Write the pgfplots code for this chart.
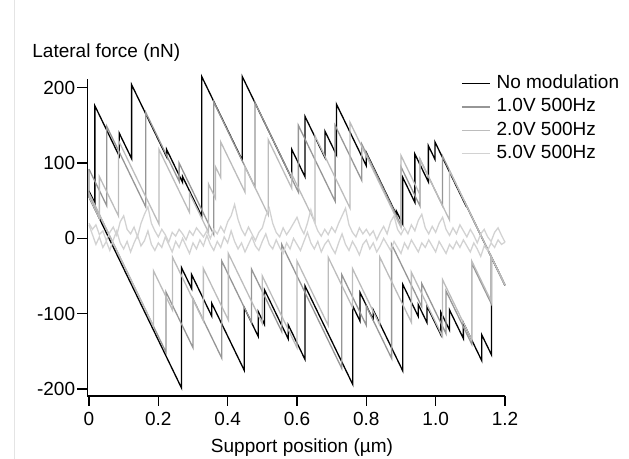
\documentclass[border=0pt]{standalone}
\usepackage{fontspec}
\setmainfont{Liberation Sans}
\usepackage{pgfplots}
\pgfplotsset{compat=1.18}
\definecolor{gA}{RGB}{150,150,150}
\definecolor{gB}{RGB}{188,188,188}
\definecolor{gC}{RGB}{210,210,210}
\definecolor{frame}{RGB}{228,228,228}
\begin{document}
\fontsize{9.5}{11}\selectfont
\begin{tikzpicture}[x=1pt,y=1pt]
\path[use as bounding box] (0,0) rectangle (314.5,229.5);
\draw[frame, line width=0.5pt] (7.5,0) -- (7.5,229.5);
\begin{axis}[
  at={(43.75pt,31.5pt)}, anchor=south west,
  scale only axis, width=208.75pt, height=158.5pt,
  xmin=-0.0043, xmax=1.2, ymin=-209.2, ymax=211.6,
  axis x line*=bottom, axis y line*=left,
  axis line style={-, line width=0.7pt},
  clip=false,
  tick align=outside, major tick length=5pt,
  tick style={black, line width=0.6pt},
  xtick={0,0.2,0.4,0.6,0.8,1.0,1.2},
  xticklabels={0,0.2,0.4,0.6,0.8,1.0,1.2},
  ytick={-200,-100,0,100,200},
  yticklabels={-200,-100,0,100,200},
  yticklabel style={inner xsep=1pt},
  ticklabel style={font=\fontsize{9.5}{11}\selectfont},
  legend style={at={(0.880,1.028)}, anchor=north west, draw=none, fill=none,
    font=\fontsize{9.5}{11}\selectfont, row sep=2.35pt, column sep=2.5pt,
    nodes={inner sep=0.5pt, text height=6.5pt, text depth=1.8pt}},
  legend cell align=left,
  legend image code/.code={\draw[#1] (0pt,0pt) -- (14pt,0pt);},
  every axis plot/.append style={line width=0.65pt},
]
% no modulation
\addplot[black] coordinates {(0,63) (0,55) (0.267,-198.7) (0.267,-39) (0.296,-66.6) (0.296,-48) (0.354,-103.1) (0.354,-86) (0.448,-175.3) (0.448,-92) (0.488,-130) (0.488,-97) (0.506,-114.1) (0.506,-68) (0.575,-133.6) (0.575,-115) (0.623,-160.6) (0.623,-63) (0.761,-194.1) (0.761,-90) (0.782,-110) (0.782,-72) (0.82,-108.1) (0.82,-95) (0.905,-175.8) (0.905,-61) (0.95,-103.8) (0.95,-88) (0.975,-111.8) (0.975,-90) (1.015,-128) (1.015,-98) (1.04,-121.8) (1.04,-95) (1.08,-133) (1.08,-112) (1.133,-162.4) (1.133,-128) (1.161,-154.6) (1.161,-25) (1.2,-62.1)};
\addlegendentry{No modulation}
\addplot[black, forget plot] coordinates {(0,63) (0.017,46.9) (0.017,176) (0.087,109.5) (0.087,140) (0.123,105.8) (0.123,204) (0.224,108.1) (0.224,118) (0.27,74.3) (0.27,82) (0.325,29.8) (0.325,215) (0.442,103.9) (0.442,215) (0.585,79.2) (0.585,118) (0.623,81.9) (0.623,162) (0.681,106.9) (0.681,142) (0.714,110.7) (0.714,178) (0.80,96.3) (0.80,114) (0.887,31.4) (0.887,36) (0.905,18.9) (0.905,81) (0.94,47.8) (0.94,112) (0.979,75) (0.979,123) (0.998,105) (0.998,128) (1.085,45.4) (1.085,47) (1.2,-62.3)};
% 1.0 V
\addplot[gA] coordinates {(0,92) (0,60) (0.222,-150.9) (0.222,-71) (0.30,-145.1) (0.30,-80) (0.383,-158.9) (0.383,-30) (0.469,-111.7) (0.469,-41) (0.556,-123.7) (0.556,-8) (0.729,-172.4) (0.729,-48) (0.80,-115.5) (0.80,-90) (0.873,-159.4) (0.873,-8) (0.96,-90.7) (0.96,-60) (1.03,-126.5) (1.03,-70) (1.104,-140.3) (1.104,-33) (1.16,-86.2) (1.16,-24) (1.2,-62)};
\addlegendentry{1.0V 500Hz}
\addplot[gA, forget plot] coordinates {(0,92) (0.051,43.5) (0.051,149) (0.164,41.6) (0.164,167) (0.26,75.8) (0.26,100) (0.36,5) (0.36,181) (0.479,67.9) (0.479,180) (0.604,61.3) (0.604,150) (0.71,49.3) (0.71,150) (0.787,76.9) (0.787,125) (0.90,17.6) (0.90,95) (0.955,42.8) (0.955,105) (1.02,43.3) (1.02,109) (1.2,-62)};
% 2.0 V
\addplot[gB] coordinates {(0,55) (0,60) (0.186,-116.7) (0.186,-43) (0.241,-95.3) (0.241,-25) (0.33,-109.6) (0.33,-40) (0.402,-108.4) (0.402,-20) (0.50,-113.1) (0.50,-50) (0.60,-145) (0.60,-30) (0.69,-115.5) (0.69,-25) (0.76,-91.5) (0.76,-40) (0.839,-115.1) (0.839,-25) (0.93,-111.5) (0.93,-45) (1.02,-130.5) (1.02,-55) (1.104,-134.8) (1.104,-30) (1.16,-83.2) (1.16,-24) (1.2,-62)};
\addlegendentry{2.0V 500Hz}
\addplot[gB, forget plot] coordinates {(0,55) (0.03,26.5) (0.03,82) (0.085,29.8) (0.085,130) (0.202,18.9) (0.202,118) (0.29,34.4) (0.29,60) (0.345,7.8) (0.345,72) (0.365,53) (0.365,95) (0.38,80.8) (0.38,128) (0.45,61.5) (0.45,95) (0.517,31.4) (0.517,131) (0.585,66.4) (0.585,85) (0.652,21.4) (0.652,136) (0.753,40.1) (0.753,154) (0.90,14.4) (0.90,110) (0.955,57.8) (0.955,105) (1.04,24.3) (1.04,90) (1.2,-62)};
% 5.0 V
\addplot[gC] coordinates {(0,20) (0.01,12) (0.02,18) (0.03,5) (0.04,10) (0.05,-3) (0.06,8) (0.07,15) (0.08,4) (0.09,22) (0.10,30) (0.11,12) (0.12,6) (0.13,15) (0.14,2) (0.15,20) (0.16,32) (0.17,42) (0.18,20) (0.19,10) (0.20,2) (0.21,12) (0.22,5) (0.23,-5) (0.24,8) (0.25,3) (0.26,12) (0.27,6) (0.28,-2) (0.29,10) (0.30,4) (0.31,14) (0.32,8) (0.33,2) (0.34,10) (0.35,0) (0.36,12) (0.37,6) (0.38,16) (0.39,8) (0.40,22) (0.41,30) (0.42,45) (0.43,25) (0.44,12) (0.45,4) (0.46,15) (0.47,6) (0.48,-3) (0.49,8) (0.50,14) (0.51,30) (0.52,40) (0.53,20) (0.54,8) (0.55,2) (0.56,14) (0.57,5) (0.58,12) (0.59,20) (0.60,28) (0.61,15) (0.62,6) (0.63,20) (0.64,38) (0.65,22) (0.66,10) (0.67,3) (0.68,12) (0.69,5) (0.70,15) (0.71,8) (0.72,20) (0.73,30) (0.74,40) (0.75,18) (0.76,8) (0.77,2) (0.78,14) (0.79,6) (0.80,12) (0.81,4) (0.82,10) (0.83,-2) (0.84,8) (0.85,16) (0.86,6) (0.87,22) (0.88,30) (0.89,12) (0.90,5) (0.91,14) (0.92,6) (0.93,18) (0.94,10) (0.95,24) (0.96,32) (0.97,14) (0.98,6) (0.99,16) (1.00,8) (1.01,20) (1.02,28) (1.03,12) (1.04,4) (1.05,14) (1.06,6) (1.07,18) (1.08,10) (1.09,2) (1.10,12) (1.11,4) (1.12,-6) (1.13,6) (1.14,12) (1.15,2) (1.16,-4) (1.17,8) (1.18,14) (1.19,4) (1.20,-5)};
\addlegendentry{5.0V 500Hz}
\addplot[gC, forget plot] coordinates {(0,18) (0.01,5) (0.02,-8) (0.03,2) (0.04,-12) (0.05,-4) (0.06,-16) (0.07,-2) (0.08,10) (0.09,-6) (0.10,-14) (0.11,-4) (0.12,-18) (0.13,-6) (0.14,4) (0.15,-10) (0.16,-3) (0.17,10) (0.18,-8) (0.19,-16) (0.20,-6) (0.21,-12) (0.22,2) (0.23,-8) (0.24,-18) (0.25,-4) (0.26,-12) (0.27,0) (0.28,-10) (0.29,-20) (0.30,-6) (0.31,-14) (0.32,-2) (0.33,-10) (0.34,4) (0.35,-8) (0.36,-16) (0.37,-4) (0.38,-12) (0.39,2) (0.40,-6) (0.41,10) (0.42,-4) (0.43,-14) (0.44,-6) (0.45,-18) (0.46,-8) (0.47,2) (0.48,-10) (0.49,-16) (0.50,-4) (0.51,6) (0.52,-8) (0.53,-14) (0.54,-2) (0.55,-12) (0.56,-20) (0.57,-6) (0.58,-14) (0.59,0) (0.60,-8) (0.61,-16) (0.62,-4) (0.63,8) (0.64,-6) (0.65,-14) (0.66,-4) (0.67,-18) (0.68,-8) (0.69,-2) (0.70,-12) (0.71,-20) (0.72,-6) (0.73,6) (0.74,-8) (0.75,-16) (0.76,-4) (0.77,-12) (0.78,-22) (0.79,-8) (0.80,-2) (0.81,-14) (0.82,-6) (0.83,-18) (0.84,-10) (0.85,0) (0.86,-8) (0.87,-16) (0.88,-4) (0.89,-12) (0.90,-20) (0.91,-6) (0.92,-14) (0.93,-2) (0.94,-10) (0.95,-18) (0.96,-6) (0.97,-12) (0.98,-2) (0.99,-10) (1.00,-18) (1.01,-4) (1.02,-12) (1.03,-20) (1.04,-8) (1.05,-14) (1.06,-4) (1.07,-12) (1.08,-2) (1.09,-10) (1.10,-18) (1.11,-6) (1.12,-14) (1.13,-24) (1.14,-10) (1.15,-16) (1.16,-6) (1.17,-12) (1.18,-2) (1.19,-8) (1.20,-5)};
\end{axis}
\node[anchor=base west, inner sep=0pt] at (16,200.8) {Lateral force (nN)};
\node[anchor=base, inner sep=0pt] at (151,3) {Support position (µm)};
\end{tikzpicture}
\end{document}
